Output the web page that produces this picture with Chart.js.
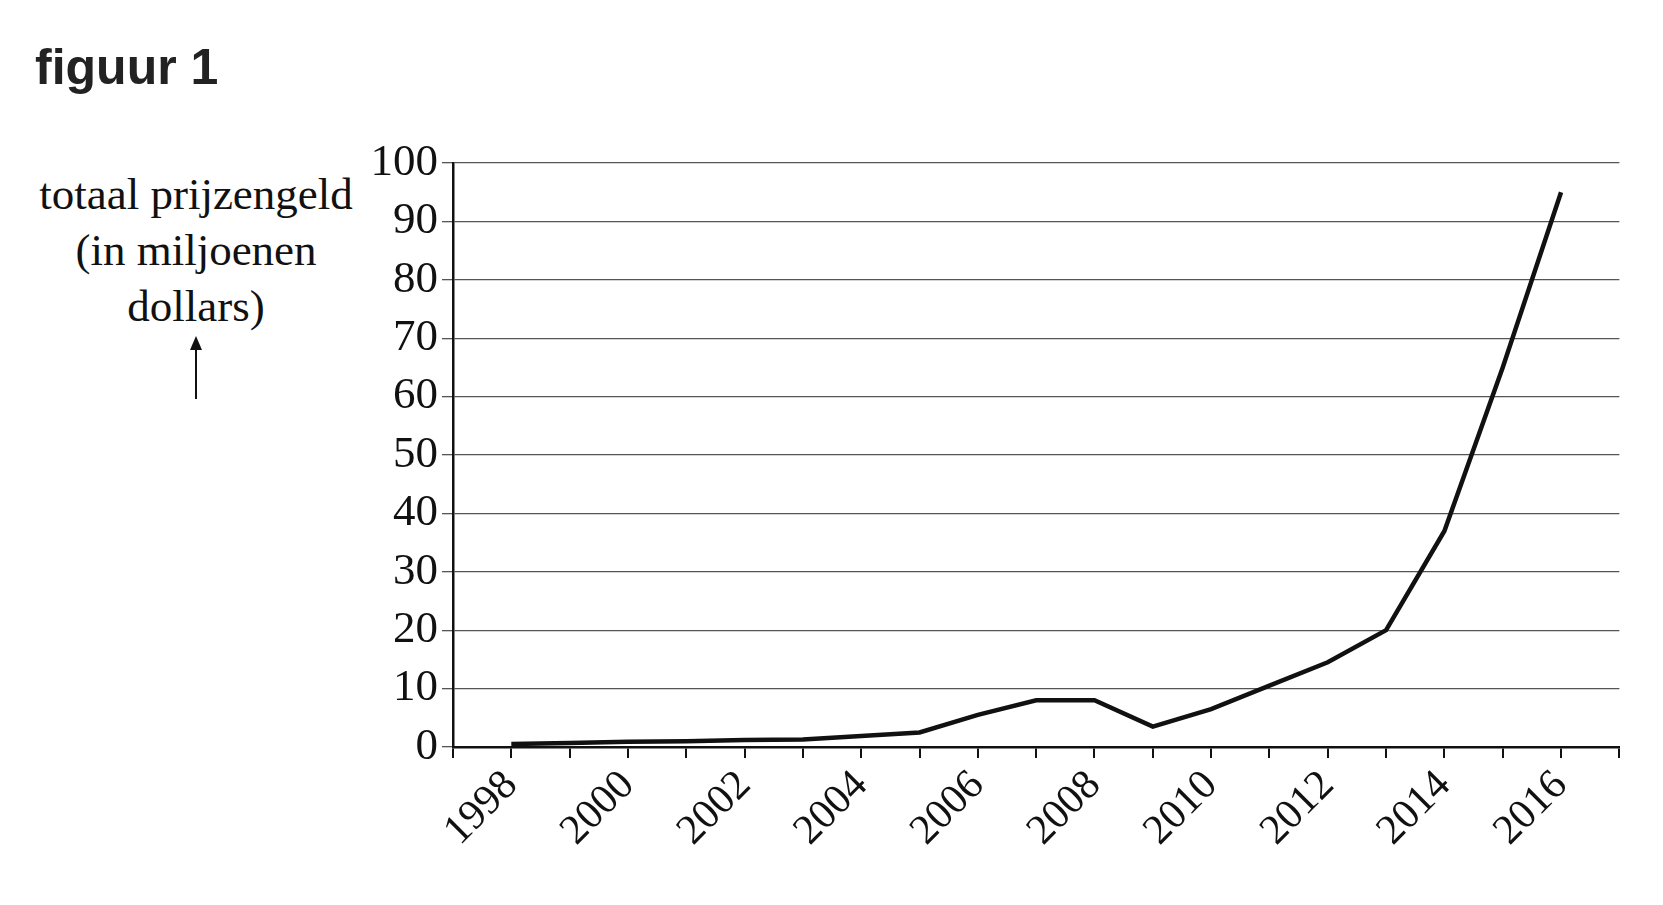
<!DOCTYPE html>
<html>
<head>
<meta charset="utf-8">
<script src="https://cdn.jsdelivr.net/npm/chart.js@4"></script>
<style>
  body { margin: 0; background: #fff; width: 1663px; height: 905px; position: relative; overflow: hidden; }
  #title { position: absolute; left: 35px; top: 38px; font: bold 50px "Liberation Sans", Arial, sans-serif; color: #222; }
  #ylabel { position: absolute; left: 16px; top: 166px; width: 360px; text-align: center;
            font: 45px "Liberation Serif", serif; line-height: 56px; color: #111; }
  #arrow { position: absolute; left: 195px; top: 343px; width: 2px; height: 56px; background: #111; }
  #arrowhead { position: absolute; left: 190px; top: 336px; width: 0; height: 0;
               border-left: 6px solid transparent; border-right: 6px solid transparent; border-bottom: 14px solid #111; }
  #wrap { position: absolute; left: 358px; top: 132px; width: 1300px; height: 725px; }
</style>
</head>
<body>
<div id="title">figuur 1</div>
<div id="ylabel">totaal prijzengeld<br>(in miljoenen<br>dollars)</div>
<div id="arrow"></div><div id="arrowhead"></div>
<div id="wrap"><canvas id="c"></canvas></div>
<script>
// ================= DATA =================
const years = [1998, 1999, 2000, 2001, 2002, 2003, 2004, 2005, 2006, 2007, 2008, 2009, 2010, 2011, 2012, 2013, 2014, 2015, 2016];
const prizeMoney = [0.5, 0.7, 0.9, 1.0, 1.2, 1.3, 1.9, 2.5, 5.5, 8, 8, 3.5, 6.5, 10.5, 14.5, 20, 37, 65, 95];
const yTicks = [0, 10, 20, 30, 40, 50, 60, 70, 80, 90, 100];

const serif = '"Liberation Serif", "Times New Roman", serif';

new Chart(document.getElementById('c'), {
    type: 'line',
    data: {
        datasets: [{
            data: years.map((y, i) => ({ x: y, y: prizeMoney[i] })),
            borderColor: '#111',
            borderWidth: 4.5,
            pointRadius: 0,
            tension: 0
        }]
    },
    options: {
        responsive: true,
        maintainAspectRatio: false,
        animation: false,
        layout: { padding: { top: 18, right: 10 } },
        plugins: { legend: { display: false }, tooltip: { enabled: false } },
        scales: {
            x: {
                type: 'linear', min: 1997, max: 2017,
                afterFit: s => { s.height = 110; },
                grid: { drawOnChartArea: false, tickLength: 11, color: '#111', lineWidth: 2 },
                border: { color: '#111', width: 2.5 },
                ticks: {
                    stepSize: 1, autoSkip: false, minRotation: 45, maxRotation: 45,
                    color: '#111', font: { family: serif, size: 42 },
                    callback: v => (v % 2 === 0 && v >= 1998 && v <= 2016) ? String(v) : ''
                }
            },
            y: {
                min: 0, max: 100,
                afterFit: s => { s.width = 95; },
                afterBuildTicks: s => { s.ticks = yTicks.map(v => ({ value: v })); },
                grid: { color: '#555', lineWidth: 1.3, tickLength: 11 },
                border: { color: '#111', width: 2.5 },
                ticks: { color: '#111', padding: 4, font: { family: serif, size: 45 } }
            }
        }
    }
});
</script>
</body>
</html>
